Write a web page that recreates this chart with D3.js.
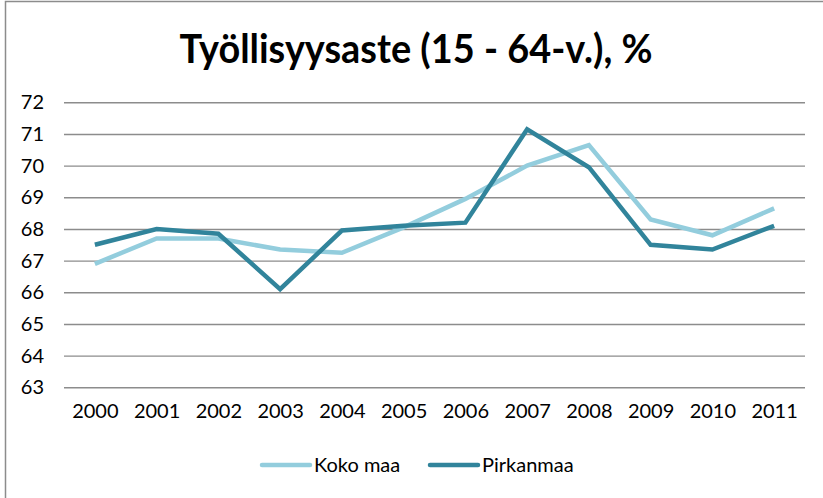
<!DOCTYPE html>
<html>
<head>
<meta charset="utf-8">
<script src="https://cdn.jsdelivr.net/npm/d3@7"></script>
<style>
  body { margin: 0; background: #fff; }
  svg { display: block; font-family: Lato, "Open Sans", sans-serif; }
</style>
</head>
<body>
<svg id="chart" width="823" height="498"></svg>
<script>
// chart data
const years = ["2000", "2001", "2002", "2003", "2004", "2005", "2006", "2007", "2008", "2009", "2010", "2011"];
const kokoMaa = [66.9, 67.7, 67.7, 67.35, 67.25, 68.05, 68.95, 70.0, 70.65, 68.3, 67.8, 68.65];
const pirkanmaa = [67.5, 68.0, 67.85, 66.1, 67.95, 68.1, 68.2, 71.15, 69.95, 67.5, 67.35, 68.1];
const yTicks = [63, 64, 65, 66, 67, 68, 69, 70, 71, 72];
const seriesNames = ["Koko maa", "Pirkanmaa"];
const seriesColors = ["#93cddd", "#31849b"];

const svg = d3.select("#chart");

// outer frame (only top/left show in the reference)
svg.append("rect")
  .attr("x", 5.5).attr("y", 1.5)
  .attr("width", 840).attr("height", 520)
  .attr("fill", "none").attr("stroke", "#8c8c8c").attr("stroke-width", 1.5);

svg.append("text")
  .attr("x", 416).attr("y", 63)
  .attr("text-anchor", "middle")
  .attr("font-size", 41).attr("font-weight", "bold")
  .attr("textLength", 473).attr("lengthAdjust", "spacingAndGlyphs")
  .attr("fill", "#000")
  .text("Työllisyysaste (15 - 64-v.), %");

const plotLeft = 64, plotRight = 805, plotTop = 102.3, plotBottom = 387.3;

let x = d3.scalePoint().domain(years).range([plotLeft, plotRight]).padding(0.5);
let y = d3.scaleLinear().domain([63, 72]).range([plotBottom, plotTop]);

// grid lines
svg.append("g")
  .attr("transform", "translate(" + plotLeft + ",0)")
  .call(d3.axisLeft(y).tickValues(yTicks).tickSize(-(plotRight - plotLeft)).tickFormat(""))
  .call(g => g.select(".domain").remove())
  .selectAll(".tick line")
  .attr("stroke", "#8c8c8c").attr("stroke-width", 1.4);

// y labels
svg.append("g")
  .attr("transform", "translate(44,0)")
  .call(d3.axisLeft(y).tickValues(yTicks).tickSize(0).tickPadding(0))
  .call(g => g.select(".domain").remove())
  .selectAll("text")
  .attr("font-family", "Lato, sans-serif")
  .attr("font-size", 20).attr("fill", "#000");

// x labels
svg.append("g")
  .attr("transform", "translate(0,404)")
  .call(d3.axisBottom(x).tickSize(0).tickPadding(0))
  .call(g => g.select(".domain").remove())
  .selectAll("text")
  .attr("font-family", "Lato, sans-serif")
  .attr("font-size", 20).attr("fill", "#000");

const line = d3.line()
  .x((d, i) => x(years[i]))
  .y(d => y(d));

[kokoMaa, pirkanmaa].forEach(function (vals, i) {
  svg.append("path")
    .datum(vals)
    .attr("d", line)
    .attr("fill", "none")
    .attr("stroke", seriesColors[i])
    .attr("stroke-width", 4.5)
    .attr("stroke-linejoin", "miter");
});

// legend
const legendX = [262, 430];
seriesNames.forEach(function (name, i) {
  let g = svg.append("g").attr("transform", "translate(" + legendX[i] + ",465)");
  g.append("line")
    .attr("x1", 0).attr("x2", 48).attr("y1", 0).attr("y2", 0)
    .attr("stroke", seriesColors[i]).attr("stroke-width", 4.5)
    .attr("stroke-linecap", "round");
  g.append("text")
    .attr("x", 52).attr("y", 7)
    .attr("font-size", 20).attr("fill", "#000")
    .text(name);
});
</script>
</body>
</html>
